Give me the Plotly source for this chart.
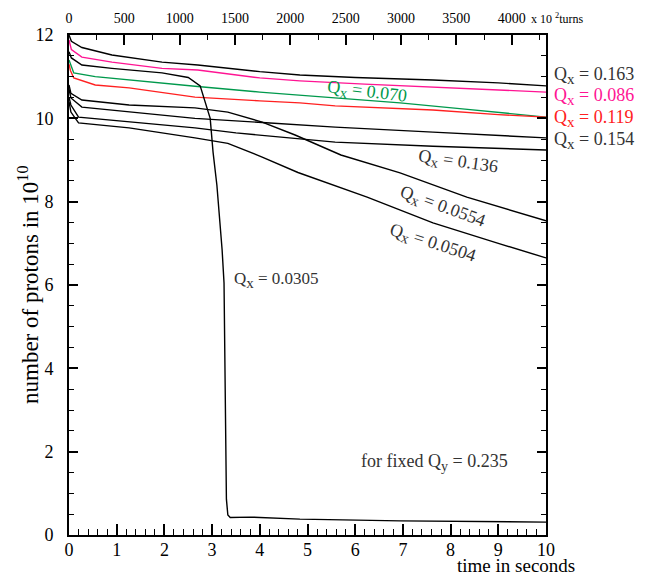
import plotly.graph_objects as go

# ---- data (time in s, protons in 1e10) ----
t_0163 = [0, 0.05, 0.27, 0.9, 1.95, 2.7, 4.0, 4.84, 6.0, 7.63, 9.0, 10]
n_0163 = [12.0, 11.85, 11.7, 11.52, 11.35, 11.28, 11.12, 11.04, 10.98, 10.92, 10.85, 10.78]

t_0086 = [0, 0.05, 0.27, 0.9, 1.95, 2.7, 4.0, 4.84, 6.2, 7.63, 9.0, 10]
n_0086 = [11.88, 11.65, 11.47, 11.35, 11.2, 11.16, 10.97, 10.9, 10.82, 10.75, 10.68, 10.63]

t_0070 = [0, 0.03, 0.1, 0.55, 1.26, 2.64, 4.0, 4.84, 5.9, 6.94, 8.3, 10]
n_0070 = [11.4, 11.3, 11.09, 11.0, 10.92, 10.77, 10.63, 10.56, 10.47, 10.37, 10.22, 10.03]

t_0119 = [0, 0.03, 0.1, 0.55, 1.26, 2.64, 4.0, 4.84, 5.58, 7.63, 9.0, 10]
n_0119 = [11.3, 11.15, 10.97, 10.8, 10.73, 10.51, 10.42, 10.37, 10.3, 10.2, 10.09, 10.03]

t_00305 = [0, 0.05, 0.27, 0.9, 1.95, 2.5, 2.75, 2.85, 2.96, 3.02, 3.1, 3.21,
           3.25, 3.3, 3.33, 3.38, 3.8, 4.84, 6.94, 10]
n_00305 = [11.6, 11.45, 11.28, 11.2, 11.09, 10.98, 10.78, 10.39, 10.0, 9.19, 8.4, 6.84,
           6.05, 0.86, 0.48, 0.42, 0.43, 0.38, 0.34, 0.31]

t_00554 = [0, 0.04, 0.27, 1.26, 2.64, 3.33, 4.05, 4.74, 5.7, 6.94, 8.34, 10]
n_00554 = [10.8, 10.6, 10.44, 10.32, 10.25, 10.15, 9.91, 9.6, 9.12, 8.69, 8.11, 7.54]

t_0154 = [0, 0.04, 0.27, 1.26, 2.64, 4.05, 4.84, 5.58, 7.63, 10]
n_0154 = [10.7, 10.49, 10.27, 10.15, 10.0, 9.9, 9.84, 9.79, 9.67, 9.53]

t_0136 = [0, 0.04, 0.2, 1.26, 2.64, 3.5, 4.84, 5.58, 7.63, 10]
n_0136 = [10.5, 10.32, 10.03, 9.91, 9.77, 9.65, 9.5, 9.43, 9.33, 9.24]

t_00504 = [0, 0.04, 0.2, 1.26, 2.64, 3.33, 4.05, 4.8, 6.25, 7.63, 9.0, 10]
n_00504 = [10.4, 10.15, 9.89, 9.77, 9.53, 9.4, 9.07, 8.7, 8.11, 7.49, 7.0, 6.65]

turns_max = 4310  # x 10^2 turns at 10 s
top_ticks = [0, 500, 1000, 1500, 2000, 2500, 3000, 3500, 4000]

BLACK = "#000000"
PINK = "#ff1493"
GREEN = "#00994c"
RED = "#ff2020"
LABEL_GREY = "#333333"
FONT = "Liberation Serif"

series = [
    (t_0163, n_0163, BLACK),
    (t_0086, n_0086, PINK),
    (t_0070, n_0070, GREEN),
    (t_0119, n_0119, RED),
    (t_00305, n_00305, BLACK),
    (t_00554, n_00554, BLACK),
    (t_0154, n_0154, BLACK),
    (t_0136, n_0136, BLACK),
    (t_00504, n_00504, BLACK),
]

fig = go.Figure()
for tx, ny, col in series:
    fig.add_trace(go.Scatter(x=tx, y=ny, mode="lines",
                             line=dict(color=col, width=1.4),
                             showlegend=False, hoverinfo="skip"))

fig.update_layout(
    width=645, height=575, autosize=False,
    margin=dict(l=69, r=99, t=35, b=40),
    paper_bgcolor="white", plot_bgcolor="white",
    font=dict(family=FONT, color=BLACK),
    xaxis=dict(range=[0, 10], tick0=0, dtick=1, ticks="inside", ticklen=11,
               tickwidth=1.5, tickcolor=BLACK, showline=True, linewidth=2,
               linecolor=BLACK, showgrid=False, zeroline=False,
               ticklabelstandoff=-3,
               tickfont=dict(family=FONT, size=18, color=BLACK),
               minor=dict(dtick=0.2, ticks="inside", ticklen=6, tickwidth=1.2,
                          tickcolor=BLACK, showgrid=False)),
    xaxis2=dict(overlaying="x", side="top", range=[0, turns_max],
                tickvals=top_ticks, ticks="inside", ticklen=10, tickwidth=1.5,
                tickcolor=BLACK, showline=True, linewidth=2, linecolor=BLACK,
                showgrid=False, zeroline=False, ticklabelstandoff=4,
                tickfont=dict(family=FONT, size=14, color=BLACK),
                minor=dict(dtick=250, ticks="inside", ticklen=5, tickwidth=1.2,
                           tickcolor=BLACK, showgrid=False)),
    yaxis=dict(range=[0, 12], tick0=0, dtick=2, ticks="inside", ticklen=9,
               tickwidth=1.5, tickcolor=BLACK, showline=True, linewidth=2,
               linecolor=BLACK, mirror="ticks", showgrid=False, zeroline=False,
               ticklabelstandoff=10,
               tickfont=dict(family=FONT, size=18, color=BLACK),
               minor=dict(dtick=0.5, ticks="inside", ticklen=5, tickwidth=1.2,
                          tickcolor=BLACK, showgrid=False)),
)

# empty trace so the top (turns) axis renders
fig.add_trace(go.Scatter(x=[], y=[], xaxis="x2", yaxis="y", showlegend=False))

QX = "Q<sub><span style='font-size:15px'>x</span></sub>"

ann = []
def label(x, y, text, color=LABEL_GREY, angle=0, xref="x", xanchor="center", size=18):
    ann.append(dict(x=x, y=y, xref=xref, yref="y", text=text, showarrow=False,
                    textangle=angle, xanchor=xanchor, yanchor="middle",
                    font=dict(family=FONT, size=size, color=color)))

label(1.013, 11.02, QX + " = 0.163", xref="paper", xanchor="left")
label(1.013, 10.52, QX + " = 0.086", color=PINK, xref="paper", xanchor="left")
label(1.013, 10.0, QX + " = 0.119", color=RED, xref="paper", xanchor="left")
label(1.013, 9.46, QX + " = 0.154", xref="paper", xanchor="left")
label(6.25, 10.63, QX + " = 0.070", color=GREEN, angle=7)
label(8.16, 8.95, QX + " = 0.136", angle=8)
label(7.84, 7.87, QX + " = 0.0554", angle=20)
label(7.61, 7.0, QX + " = 0.0504", angle=18)
label(3.42, 6.12, QX + " = 0.0305", xanchor="left", size=17)
label(7.67, 1.75, "for fixed Q<sub><span style='font-size:14px'>y</span></sub> = 0.235", size=18)

# axis titles as annotations (position control)
ann.append(dict(x=-0.086, y=0.5, xref="paper", yref="paper",
                text="number of protons in 10<sup>10</sup>", textangle=-90,
                showarrow=False, xanchor="center", yanchor="middle",
                font=dict(family=FONT, size=23, color=BLACK)))
ann.append(dict(x=1.065, y=-0.06, xref="paper", yref="paper", text="time in seconds",
                showarrow=False, xanchor="right", yanchor="middle",
                font=dict(family=FONT, size=19, color=BLACK)))
ann.append(dict(x=0.965, y=1.032, xref="paper", yref="paper", text="x 10 <sup>2</sup>turns",
                showarrow=False, xanchor="left", yanchor="middle",
                font=dict(family=FONT, size=12, color=BLACK)))
fig.update_layout(annotations=ann)

fig.write_html("out.html")
